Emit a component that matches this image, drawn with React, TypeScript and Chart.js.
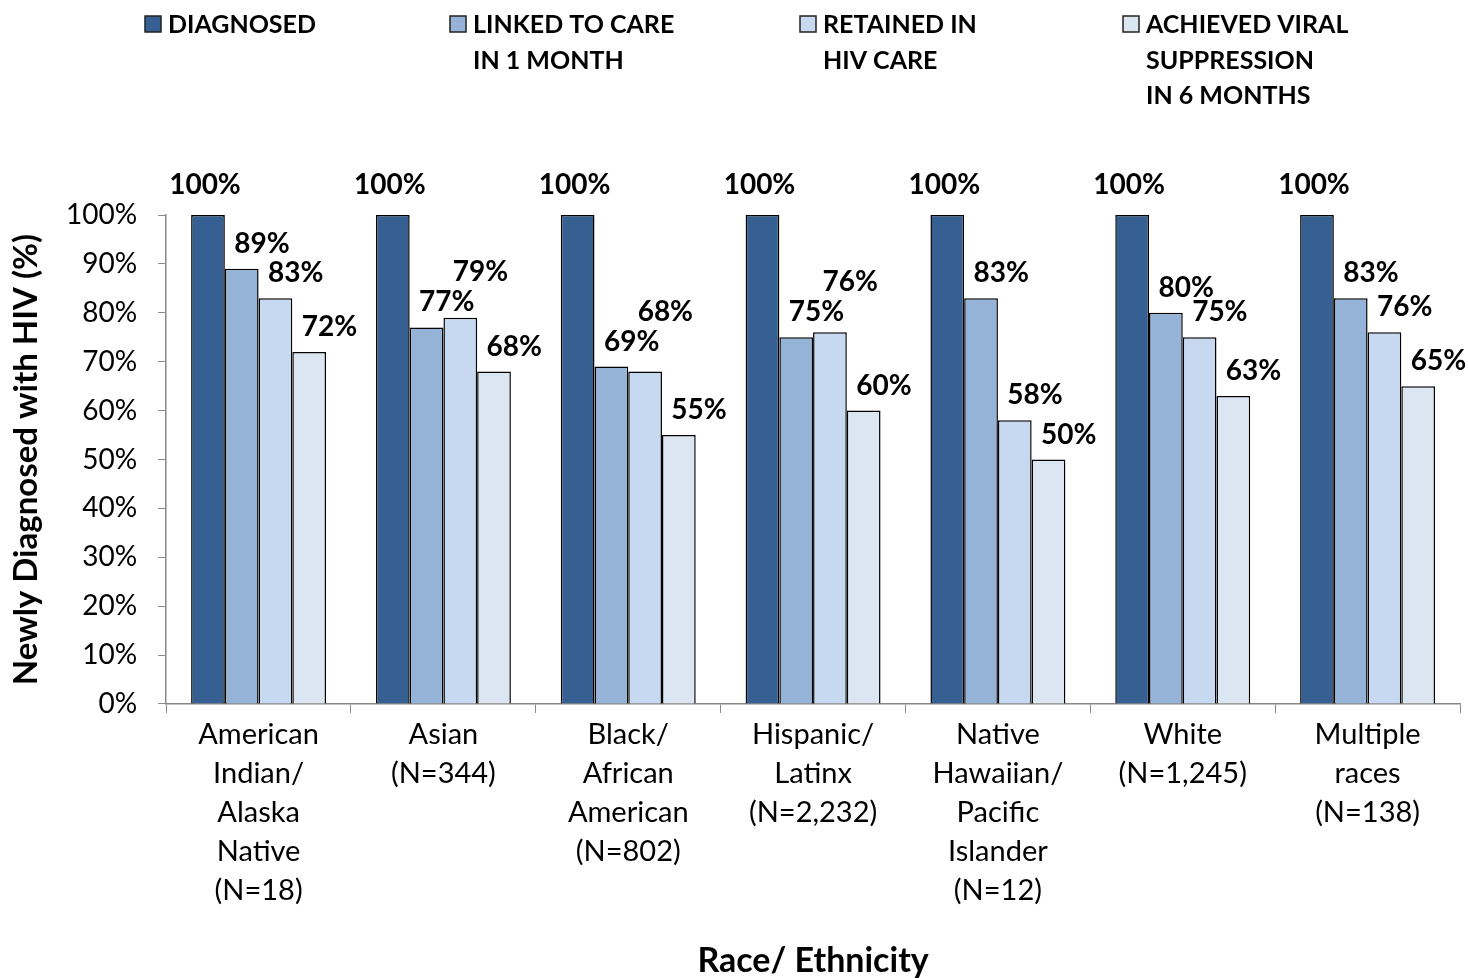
import React, { useEffect, useRef } from "react";
import { Chart, registerables } from "chart.js";

Chart.register(...registerables);

const categories: string[][] = [
  ["American", "Indian/", "Alaska", "Native", "(N=18)"],
  ["Asian", "(N=344)"],
  ["Black/", "African", "American", "(N=802)"],
  ["Hispanic/", "Latinx", "(N=2,232)"],
  ["Native", "Hawaiian/", "Pacific", "Islander", "(N=12)"],
  ["White", "(N=1,245)"],
  ["Multiple", "races", "(N=138)"],
];

const diagnosed = [100, 100, 100, 100, 100, 100, 100];
const linkedToCare = [89, 77, 69, 75, 83, 80, 83];
const retainedInCare = [83, 79, 68, 76, 58, 75, 76];
const viralSuppression = [72, 68, 55, 60, 50, 63, 65];

const seriesNames = [
  ["DIAGNOSED"],
  ["LINKED TO CARE", "IN 1 MONTH"],
  ["RETAINED IN", "HIV CARE"],
  ["ACHIEVED VIRAL", "SUPPRESSION", "IN 6 MONTHS"],
];
const seriesColors = ["#376092", "#95B3D7", "#C6D9F1", "#DCE6F2"];

const yTicks = [0, 10, 20, 30, 40, 50, 60, 70, 80, 90, 100];

const FONT = "Lato, 'Open Sans', sans-serif";

const legendPlugin = {
  id: "topLegend",
  afterDraw(chart: any) {
    const ctx = chart.ctx;
    const boxXs = [145, 450, 800, 1123];
    ctx.save();
    ctx.font = `bold 25px ${FONT}`;
    ctx.textBaseline = "middle";
    ctx.textAlign = "left";
    seriesNames.forEach((lines, i) => {
      const bx = boxXs[i];
      ctx.fillStyle = seriesColors[i];
      ctx.fillRect(bx, 16, 16, 16);
      ctx.strokeStyle = "#222";
      ctx.lineWidth = 1.5;
      ctx.strokeRect(bx, 16, 16, 16);
      ctx.fillStyle = "#000";
      lines.forEach((t, j) => {
        ctx.fillText(t, bx + 23, 25 + j * 35.5);
      });
    });
    ctx.restore();
  },
};

const labelPlugin = {
  id: "barLabels",
  afterDatasetsDraw(chart: any) {
    const ctx = chart.ctx;
    ctx.save();
    ctx.font = `bold 28px ${FONT}`;
    ctx.fillStyle = "#000";
    ctx.textAlign = "center";
    ctx.textBaseline = "middle";
    const n = chart.data.labels.length;
    for (let i = 0; i < n; i++) {
      let prev: { x: number; y: number; w: number } | null = null;
      chart.data.datasets.forEach((ds: any, di: number) => {
        const bar: any = chart.getDatasetMeta(di).data[i];
        const text = `${ds.data[i]}%`;
        const w = ctx.measureText(text).width;
        const x = bar.x + (di === 0 ? -3 : bar.width * 0.6);
        let y = bar.y + (di === 0 ? -30 : -25);
        if (prev && Math.abs(prev.x - x) < (prev.w + w) / 2 && Math.abs(prev.y - y) < 24) {
          y = prev.y - 30;
        }
        ctx.fillText(text, x, y);
        prev = { x, y, w };
      });
    }
    ctx.restore();
  },
};

export default function App() {
  const ref = useRef<HTMLCanvasElement | null>(null);
  useEffect(() => {
    if (!ref.current) return;
    const datasets = [diagnosed, linkedToCare, retainedInCare, viralSuppression].map(
      (d, i) => ({
        label: seriesNames[i].join(" "),
        data: d,
        backgroundColor: seriesColors[i],
        borderColor: "#000",
        borderWidth: 1.5,
        categoryPercentage: 0.73,
        barPercentage: 1,
      })
    );
    const chart = new Chart(ref.current, {
      type: "bar",
      data: { labels: categories, datasets },
      plugins: [legendPlugin, labelPlugin],
      options: {
        animation: false,
        responsive: false,
        maintainAspectRatio: false,
        layout: { padding: { top: 215, left: 10, right: 8, bottom: 0 } },
        plugins: {
          legend: { display: false },
          tooltip: { enabled: false },
        },
        scales: {
          x: {
            grid: {
              display: true,
              drawOnChartArea: false,
              tickLength: 9,
              color: "#888",
              offset: true,
            },
            border: { color: "#888", width: 1.5 },
            ticks: {
              color: "#000",
              font: { family: FONT, size: 29, lineHeight: 1.345 },
              maxRotation: 0,
              autoSkip: false,
              padding: 2,
            },
            title: {
              display: true,
              text: "Race/ Ethnicity",
              color: "#000",
              font: { family: FONT, size: 34, weight: "bold", lineHeight: 1.0 },
              padding: { top: 32, bottom: 0 },
            },
          },
          y: {
            min: 0,
            max: 100,
            afterBuildTicks(axis: any) {
              axis.ticks = yTicks.map((v) => ({ value: v }));
            },
            grid: {
              display: true,
              drawOnChartArea: false,
              tickLength: 8,
              color: "#888",
            },
            border: { color: "#888", width: 1.5 },
            ticks: {
              color: "#000",
              font: { family: FONT, size: 28 },
              padding: 21,
              callback: (v: any) => `${v}%`,
            },
            title: {
              display: true,
              text: "Newly Diagnosed with HIV (%)",
              color: "#000",
              font: { family: FONT, size: 33, weight: "bold", lineHeight: 1.0 },
              padding: { top: 0, bottom: 2 },
            },
          },
        },
      },
    });
    return () => chart.destroy();
  }, []);
  return (
    <div style={{ position: "fixed", left: 0, top: 0, width: 1468, height: 978, background: "#fff" }}>
      <canvas ref={ref} width={1468} height={978} style={{ width: 1468, height: 978 }} />
    </div>
  );
}
